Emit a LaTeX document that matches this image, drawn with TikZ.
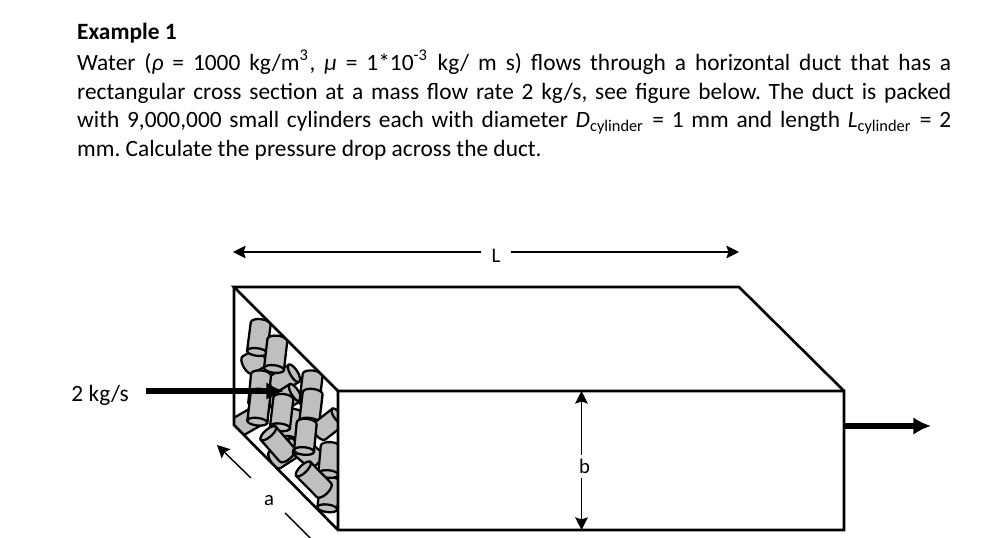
\documentclass[tikz,border=0pt]{standalone}
\usepackage{fontspec}
\setmainfont{Carlito}
\usetikzlibrary{arrows.meta}
\tikzset{
  duct/.style={line width=0.75pt, line join=miter},
  cylbody/.style={fill=black!25, draw=black, line width=0.65pt},
  flow/.style={line width=1.5pt, -{Latex[length=5pt, width=5pt]}},
  dimline/.style={line width=0.4pt, -{Stealth[length=3.6pt, width=3.6pt, inset=0.6pt]}},
  dimlabel/.style={inner sep=0pt, font=\fontsize{5.9}{7}\selectfont},
  bodytext/.style={inner sep=0pt, font=\fontsize{6.65}{8.1}\selectfont},
}
\newcommand{\cylpiece}[4]{
  \begin{scope}[shift={(#1, #2)}, rotate=#3]
  \filldraw[cylbody] (0, 0.1) -- (#4, 0.1)
  arc[start angle=90, end angle=-90, x radius=0.045, y radius=0.1]
  -- (0, -0.1) -- cycle;
  \filldraw[cylbody] (0, 0) ellipse[x radius=0.038, y radius=0.1];
  \end{scope}
}
\begin{document}
\begin{tikzpicture}
\useasboundingbox (0, 0) rectangle (10.03, 5.38);
\fill[white] (0, 0) rectangle (10.03, 5.38);
\node[bodytext, anchor=base west] (extitle) at (0.765, 4.98) {\textbf{Example 1}};
\node[bodytext, anchor=base west, text width=8.74cm, align=justify] (extext) at (0.765, 4.67)
{\frenchspacing Water (\textit{ρ} = 1000 kg/m\textsuperscript{3}, \textit{μ} = 1*10\textsuperscript{-3} kg/ m s) flows through a horizontal duct that has a\linebreak
rectangular cross section at a mass flow rate 2 kg/s, see figure below. The duct is packed\linebreak
with 9,000,000 small cylinders each with diameter \textit{D}\textsubscript{cylinder} = 1 mm and length \textit{L}\textsubscript{cylinder} = 2\linebreak
mm. Calculate the pressure drop across the duct.};
% packing seen through the open end
\begin{scope}
\clip (2.34, 2.51) -- (3.38, 1.47) -- (3.38, 0.08) -- (2.34, 1.13) -- cycle;
\foreach \ex/\ey/\eang/\elen in {
  2.667/1.84/210/0.22, 2.57/1.86/82.6/0.286, 2.94/1.647/211/0.223, 2.74/1.69/83.4/0.29,
  2.95/1.453/212/0.235, 2.617/1.247/210/0.27, 2.583/1.347/84.6/0.285, 2.573/1.163/83.3/0.285,
  2.893/0.98/80/0.27, 2.8/1.107/83.4/0.29, 3.093/1.347/83.3/0.285, 3.093/1.163/83.3/0.285,
  3.383/1.213/218/0.243, 2.95/0.913/213/0.24, 2.683/1.047/-48.8/0.288, 3/0.913/-41/0.2,
  3.04/0.87/84.5/0.278, 3.273/0.297/83/0.27, 3.283/0.64/85/0.275, 3.033/0.69/-45.5/0.295}
{\cylpiece{\ex}{\ey}{\eang}{\elen}}
\end{scope}
% duct
\draw[duct] (3.38, 1.47) -- (2.34, 2.51) -- (7.39, 2.51) -- (8.44, 1.47);
\draw[duct] (2.34, 2.51) -- (2.34, 1.13) -- (3.38, 0.08) -- (8.44, 0.08) -- (8.44, 1.47) -- (3.38, 1.47) -- (3.38, 0.08);
% flow
\node[bodytext, anchor=base east] (massflow) at (1.295, 1.36) {2 kg/s};
\coordinate (inleft) at (1.46, 1.47);
\coordinate (intip) at (2.84, 1.47);
\coordinate (outleft) at (8.44, 1.12);
\coordinate (outtip) at (9.31, 1.12);
\draw[flow] (inleft) -- (intip);
\draw[flow] (outleft) -- (outtip);
% dimensions
\node[dimlabel] (lenL) at (4.96, 2.82) {L};
\coordinate (lenleft) at (2.33, 2.86);
\coordinate (lenright) at (7.39, 2.86);
\draw[dimline] (4.81, 2.86) -- (lenleft);
\draw[dimline] (5.11, 2.86) -- (lenright);
\node[dimlabel] (lenb) at (5.845, 0.72) {b};
\coordinate (btop) at (5.815, 1.47);
\coordinate (bbot) at (5.815, 0.08);
\draw[dimline] (5.815, 0.83) -- (btop);
\draw[dimline] (5.815, 0.6) -- (bbot);
\node[dimlabel] (lena) at (2.69, 0.37) {a};
\coordinate (atop) at (2.17, 0.93);
\coordinate (abot) at (3.29, -0.19);
\draw[dimline] (2.51, 0.6) -- (atop);
\draw[dimline] (2.85, 0.25) -- (abot);
\end{tikzpicture}
\end{document}
